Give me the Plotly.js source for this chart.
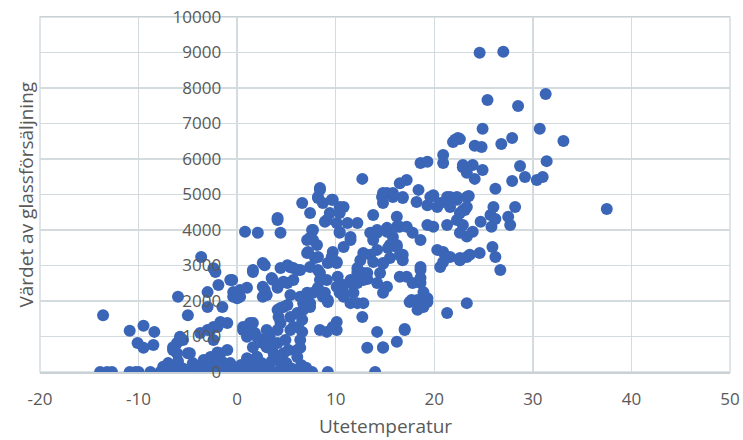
<!DOCTYPE html>
<html>
<head>
<meta charset="utf-8">
<script src="https://cdn.plot.ly/plotly-3.0.1.min.js"></script>
<style>html,body{margin:0;padding:0;background:#fff;}#chart{width:743px;height:440px;}</style>
</head>
<body>
<div id="chart"></div>
<script>
// Utetemperatur (°C) and Värdet av glassförsäljning
const tempValues = [
 -13.6,-10.9,-9.5,-8.4,-10.1,-9.5,-8.5,
 -13.9,-13.2,-12.7,-10.9,-10.3,-10.0,-8.8,-7.8,-7.3,-6.8,-6.3,-5.8,-5.3,-4.8,-4.3,-3.8,-3.3,-2.8,-2.3,-1.8,-1.3,-0.8,-0.3,0.2,0.7,1.2,1.7,2.2,2.7,3.2,3.7,4.2,4.7,5.2,5.7,6.2,6.8,7.6,9.2,14.0,
 -7.5,-7.0,-6.5,-6.0,-5.5,-4.5,-4.0,-3.4,-3.0,-2.4,-2.0,-1.5,-0.7,-0.2,0.4,1.0,1.5,2.0,2.5,3.0,3.5,4.1,4.5,5.0,5.5,6.1,6.5,7.0,
 -6.5,-6.1,-5.0,-5.8,-6.1,-5.5,-6.5,-4.8,-3.75,-2.7,-2.0,-1.0,-1.7,-2.4,-1.7,-2.0,-2.7,-1.0,0.6,1.0,-3.0,-2.4,
 -6.0,-5.0,-3.65,-2.4,-2.2,-3.0,-1.9,-3.0,-1.5,-0.5,-0.4,0.3,0.8,-0.7,-0.4,0.3,1.0,0.0,
 2.1,4.4,1.6,2.8,3.5,5.1,5.7,6.4,7.1,7.1,2.6,3.0,4.1,5.1,5.7,6.4,6.7,4.7,4.1,5.4,6.1,4.4,5.4,3.0,4.1,1.6,0.6,1.3,2.0,2.6,3.3,1.6,3.0,4.1,4.7,6.1,6.4,3.7,2.0,4.1,6.6,7.4,7.6,7.7,7.2,7.9,7.4,8.2,8.4,8.1,8.7,9.2,7.1,6.7,7.4,6.6,4.4,5.1,4.2,5.7,6.2,4.9,5.2,6.4,1.3,1.8,2.6,3.3,2.6,2.8,2.6,1.6,4.4,6.1,4.7,5.4,7.1,3.6,5.4,
 9.1,9.4,10.4,10.1,11.2,12.2,10.4,11.5,10.8,9.6,10.1,10.2,10.4,10.8,11.5,12.2,12.8,13.2,12.2,12.5,12.8,13.5,14.2,13.8,14.2,15.2,15.8,16.5,16.2,13.8,14.8,15.5,16.2,16.8,15.5,14.8,14.5,14.2,15.2,14.8,16.5,17.2,17.8,18.6,18.6,17.7,18.6,18.9,19.3,18.3,12.2,12.8,12.7,14.2,13.2,14.8,16.2,17.0,8.4,9.1,9.7,10.1,
 12.7,16.5,17.2,18.4,18.6,19.3,20.9,22.9,23.3,8.4,8.2,8.7,9.7,10.8,10.4,8.9,7.7,7.4,8.1,8.2,10.4,11.5,9.7,9.2,10.1,8.4,9.1,8.2,7.7,8.9,6.7,7.4,9.2,10.1,10.8,11.5,12.2,13.2,13.8,14.8,15.3,16.2,16.5,16.8,13.5,14.2,15.2,16.2,17.2,17.8,18.6,19.3,19.9,21.3,22.3,22.9,14.7,15.2,15.8,16.8,18.2,19.3,19.9,20.6,21.6,22.3,23.3,22.6,20.3,20.9,21.6,22.6,23.3,20.6,20.9,18.6,18.6,18.9,19.3,18.3,17.5,11.8,12.2,12.8,11.8,10.8,10.4,11.5,14.8,17.0,21.3,23.3,6.6,9.7,10.1,
 25.4,28.5,31.3,24.9,30.7,33.1,27.9,26.8,24.1,24.8,22.6,31.4,28.7,29.2,27.9,30.4,31.0,22.9,23.9,24.9,24.1,26.2,23.5,28.2,37.5,23.1,26.0,25.7,24.7,26.2,27.5,27.7,25.8,23.9,22.6,23.3,25.9,24.6,23.6,22.6,26.2,26.7,
 24.6,27.0,21.9,22.4,20.9,22.1,14.8,15.8,16.8,8.4,8.2,9.6,19.6,20.3,21.3,22.3,23.3,21.6,22.9,4.1
];
const salesValues = [
 1600,1160,1300,1130,820,680,760,
 0,0,0,0,0,0,0,0,0,0,0,0,0,0,0,0,0,0,0,0,0,0,0,0,0,0,0,0,0,0,0,0,0,0,0,0,0,0,0,0,
 150,250,140,300,100,250,120,340,180,340,150,280,250,120,200,390,150,420,250,130,300,420,150,250,100,420,200,120,
 700,530,530,990,820,900,620,530,1100,1180,1270,1380,1410,900,530,550,420,620,1180,990,1180,1270,
 2120,1600,3240,2920,2820,2250,2450,1830,1830,2590,2120,2310,3950,2590,2250,2120,2370,2080,
 3920,3920,2820,3010,2650,3010,2930,2870,3350,3720,2400,2170,2370,2510,2590,2120,1940,1830,1750,1550,1660,1380,1180,1180,1180,1380,1270,1100,990,900,990,700,700,820,530,620,900,530,420,4280,4760,4480,4000,3720,3380,3210,2960,2870,2590,2310,2120,2030,1940,1750,1830,1470,1800,1890,1550,1270,1270,900,620,680,1380,1100,820,700,2120,2310,3070,2870,2930,2870,2540,2170,2230,2600,2950,
 4280,4480,4650,4200,4200,4200,3920,3720,3520,3240,3070,2680,2400,2230,2590,2510,2590,2790,2930,3150,3350,3300,3440,3720,3920,4060,3800,4090,4370,4420,4760,3580,3520,3300,3210,3070,2790,2510,2400,2230,2680,2680,2510,2650,2960,2030,1940,1830,2080,1750,1940,1940,1550,1130,680,700,850,1180,1180,1130,1270,1180,
 5440,5320,5410,5130,5890,5920,5890,5830,5610,5180,4930,4760,4850,4650,4480,4230,4000,3780,3580,3240,3950,3800,3380,3070,3100,2790,2590,2370,2230,2230,2080,1940,1970,2400,2450,2510,2820,2620,3100,3050,3490,3580,3290,3150,3920,4000,3950,4090,4090,3920,3720,4140,4090,4140,4280,4140,4930,5040,4930,4930,4790,4700,4980,4760,4930,4850,4650,4480,3440,3380,3240,3150,3240,2960,3100,2870,2510,2250,1970,2030,1970,2510,2730,2790,2230,2120,2230,1940,680,1210,1660,1940,1130,1240,1410,
 7660,7490,7830,6850,6850,6510,6590,6420,6370,6340,6560,5940,5800,5490,5380,5410,5490,5770,5830,5690,5440,5160,4960,4650,4590,4560,4650,4420,4230,4310,4370,4140,4090,3950,3920,3820,3520,3350,3300,3210,3240,2870,
 8990,9020,6480,6590,6110,6540,5040,5040,4900,5130,4900,4850,4930,4650,4930,4930,4930,4650,4560,4340
];
const xTickValues = [-20,-10,0,10,20,30,40,50];
const yTickValues = [0,1000,2000,3000,4000,5000,6000,7000,8000,9000,10000];
const xTitle = 'Utetemperatur';
const yTitle = 'Värdet av glassförsäljning';

const FONT = 'Open Sans, Liberation Sans, sans-serif';
const trace = {
  type: 'scatter', mode: 'markers',
  x: tempValues, y: salesValues,
  marker: {color: '#3b66b8', size: 12, line: {width: 0}},
  hoverinfo: 'x+y'
};
const gridC = '#d3dbdf';
const layout = {
  width: 743, height: 440,
  margin: {l: 40, r: 13, t: 17, b: 68},
  paper_bgcolor: '#ffffff', plot_bgcolor: '#ffffff',
  showlegend: false,
  font: {family: FONT, color: '#595959', size: 17},
  xaxis: {
    range: [-20, 50], tickvals: xTickValues, ticktext: xTickValues.map(String),
    showgrid: true, gridcolor: gridC, gridwidth: 1.5, zeroline: false,
    showline: true, linecolor: '#c9d1d5', linewidth: 1.5, mirror: true,
    ticks: '', ticklabelstandoff: 11,
    tickfont: {family: FONT, size: 17, color: '#595959'}
  },
  yaxis: {
    range: [0, 10000], tickvals: yTickValues, ticktext: yTickValues.map(String),
    anchor: 'free', position: 20/70,
    showgrid: true, gridcolor: gridC, gridwidth: 1.5, zeroline: false,
    showline: false, ticks: '', ticklabelstandoff: 16,
    tickfont: {family: FONT, size: 17, color: '#595959'}
  },
  shapes: [
    {type: 'rect', xref: 'paper', yref: 'paper', x0: 0, x1: 1, y0: 0, y1: 1,
     line: {color: gridC, width: 1.5}, fillcolor: 'rgba(0,0,0,0)', layer: 'below'}
  ],
  annotations: [
    {text: xTitle, xref: 'paper', yref: 'paper', x: 0.5, y: -0.152, xanchor: 'center', yanchor: 'middle',
     showarrow: false, font: {family: FONT, size: 19, color: '#595959'}},
    {text: yTitle, xref: 'paper', yref: 'paper', x: -0.0217, y: 0.5, xanchor: 'center', yanchor: 'middle',
     textangle: -90, showarrow: false, font: {family: FONT, size: 19, color: '#595959'}}
  ]
};
Plotly.newPlot('chart', [trace], layout, {staticPlot: true, displayModeBar: false});
</script>
</body>
</html>
